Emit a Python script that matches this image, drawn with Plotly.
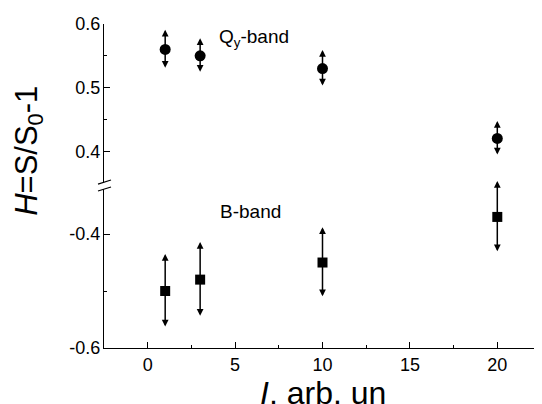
import plotly.graph_objects as go

# ---- data ----
intensity = [1, 3, 10, 20]
qy_h = [0.56, 0.55, 0.53, 0.42]
qy_err = [0.031, 0.0275, 0.029, 0.0275]
b_h = [-0.50, -0.48, -0.45, -0.37]
b_err = [0.065, 0.066, 0.062, 0.063]
x_ticks = [0, 5, 10, 15, 20]
top_ticks = [0.4, 0.5, 0.6]
top_tick_text = ["0.4", "0.5", "0.6"]
bottom_ticks = [-0.6, -0.4]
bottom_tick_text = ["-0.6", "-0.4"]

FONT = "Liberation Sans, Arial, sans-serif"

fig = go.Figure()
fig.add_trace(go.Scatter(x=intensity, y=qy_h, mode="markers", yaxis="y2",
                         marker=dict(symbol="circle", size=11, color="black"),
                         showlegend=False, cliponaxis=False))
fig.add_trace(go.Scatter(x=intensity, y=b_h, mode="markers", yaxis="y",
                         marker=dict(symbol="square", size=10, color="black"),
                         showlegend=False, cliponaxis=False))

annotations = []
# double-headed error arrows
for xs, ys, es, yref in [(intensity, qy_h, qy_err, "y2"), (intensity, b_h, b_err, "y")]:
    for xv, yv, ev in zip(xs, ys, es):
        annotations.append(dict(
            x=xv, y=yv + ev, xref="x", yref=yref,
            ax=xv, ay=yv - ev, axref="x", ayref=yref,
            text="", showarrow=True, arrowside="end+start",
            arrowhead=2, startarrowhead=2, arrowsize=0.9, startarrowsize=0.9,
            arrowwidth=1.5, arrowcolor="black"))

annotations += [
    dict(x=3.95, y=0.578, xref="x", yref="y2", text="Q<sub>y</sub>-band", showarrow=False,
         xanchor="left", yanchor="middle", font=dict(size=19, color="black", family=FONT)),
    dict(x=4.0, y=-0.36, xref="x", yref="y", text="B-band", showarrow=False,
         xanchor="left", yanchor="middle", font=dict(size=19, color="black", family=FONT)),
    dict(x=-0.172, y=0.608, xref="paper", yref="paper", text="<i>H</i>=S/S<sub>0</sub>-1",
         showarrow=False, textangle=-90, xanchor="center", yanchor="middle",
         font=dict(size=31, color="black", family=FONT)),
    dict(x=0.5, y=-0.078, xref="paper", yref="paper", text="<i>I</i>, arb. un",
         showarrow=False, xanchor="center", yanchor="top",
         font=dict(size=32, color="black", family=FONT)),
]

# axis break marks
shapes = []
for y0, y1 in [(0.506, 0.5185), (0.4846, 0.4969)]:
    shapes.append(dict(type="line", xref="paper", yref="paper",
                       x0=-0.0137, x1=0.016, y0=y0, y1=y1,
                       line=dict(color="black", width=1.2)))

axis_common = dict(showline=True, linecolor="black", linewidth=1.2, ticks="inside",
                   tickcolor="black", tickwidth=1.2, ticklen=6, showgrid=False,
                   zeroline=False, tickfont=dict(size=18, color="black", family=FONT))

# the page body has an 8px margin, so the figure is sized to fit the 542x404 window
fig.update_layout(
    width=534, height=396,
    margin=dict(l=96, r=1, t=16, b=56),
    paper_bgcolor="white", plot_bgcolor="white",
    xaxis=dict(range=[-2.5, 22.5], tickvals=x_ticks, anchor="y",
               minor=dict(dtick=2.5, tick0=0, ticks="inside", ticklen=3, tickcolor="black"),
               **axis_common),
    yaxis=dict(domain=[0, 0.4907], range=[-0.6, -0.321], tickvals=bottom_ticks,
               ticktext=bottom_tick_text, anchor="x", ticklabelstandoff=-1,
               minor=dict(dtick=0.1, tick0=0, ticks="inside", ticklen=3, tickcolor="black"),
               **axis_common),
    yaxis2=dict(domain=[0.5093, 1], range=[0.35, 0.6], tickvals=top_ticks,
                ticktext=top_tick_text, anchor="x", ticklabelstandoff=-1,
                minor=dict(dtick=0.05, tick0=0, ticks="inside", ticklen=3, tickcolor="black"),
                **axis_common),
    annotations=annotations,
    shapes=shapes,
)

fig.write_html("out.html")
